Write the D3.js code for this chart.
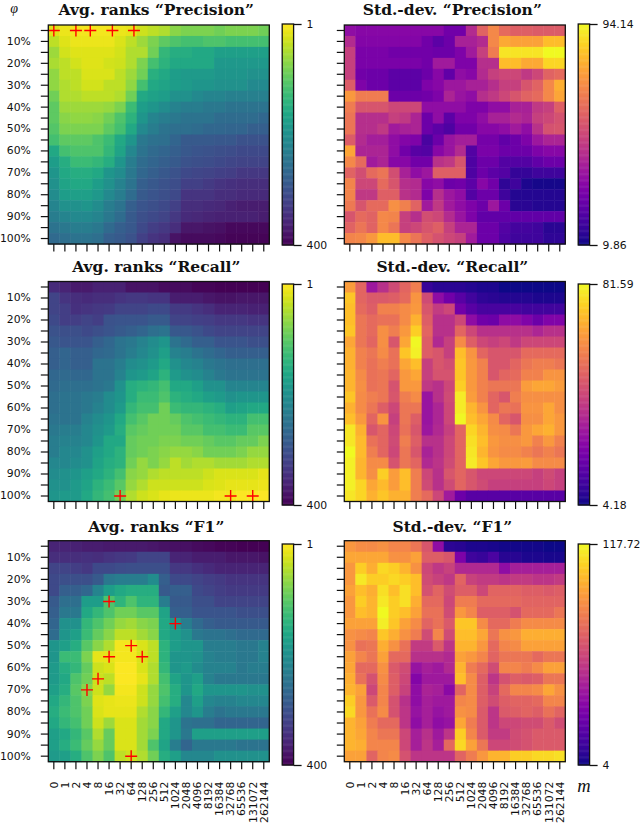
<!DOCTYPE html>
<html>
<head>
<meta charset="utf-8">
<script src="https://cdn.jsdelivr.net/npm/d3@7/dist/d3.min.js"></script>
<style>
  html, body { margin: 0; padding: 0; background: #fff; }
  svg { display: block; }
  text { fill: #111; }
</style>
</head>
<body>
<div id="chart"></div>
<script>
var w = 640;
var h = 824;

// tick labels
var mValues = ["0","1","2","4","8","16","32","64","128","256","512","1024","2048","4096","8192","16384","32768","65536","131072","262144"];
var phiValues = ["5%","10%","15%","20%","25%","30%","35%","40%","45%","50%","55%","60%","65%","70%","75%","80%","85%","90%","95%","100%"];

// colorbar ranges
var rankRange = [1, 400];
var stdPrecisionRange = [9.86, 94.14];
var stdRecallRange = [4.18, 81.59];
var stdF1Range = [4, 117.72];

// best settings, [m position, phi position]
var bestPrecision = [[0,0],[2,0],[3.3,0],[5.3,0],[7.25,0]];
var bestRecall = [[6,19],[16,19],[18,19]];
var bestF1 = [[5,5],[7,9],[5,10],[8,10],[4,12],[3,13],[7,19],[11,7]];

var rankPrecision = [
[20,12,8,8,8,8,12,16,32,40,48,72,80,80,80,88,80,80,80,88],
[40,20,12,12,12,12,24,40,60,80,100,112,120,120,112,112,120,120,120,120],
[60,28,20,20,20,20,28,48,48,88,136,152,152,160,160,176,176,176,176,176],
[52,40,28,20,20,28,32,48,80,120,144,160,160,160,160,188,188,188,188,188],
[68,40,40,24,24,24,40,60,88,148,160,180,184,184,184,192,192,192,200,200],
[68,48,40,28,28,40,40,68,120,160,168,180,184,192,192,200,200,200,212,212],
[88,48,48,40,40,40,48,88,160,172,180,200,200,212,220,220,228,228,228,228],
[100,60,60,60,60,64,80,128,180,192,208,224,232,232,240,240,248,248,248,248],
[100,72,68,68,72,88,112,144,192,220,232,240,248,248,248,260,260,260,260,268],
[108,80,80,80,80,100,120,160,212,232,248,256,256,260,268,268,272,272,280,280],
[120,100,100,100,112,128,160,192,240,252,256,272,288,288,288,292,292,300,300,300],
[160,120,112,112,112,136,168,216,248,264,272,280,292,296,300,304,308,312,312,312],
[180,152,128,128,136,152,192,232,260,272,280,288,300,304,308,312,316,320,320,320],
[192,160,152,152,160,192,208,240,268,280,292,300,312,316,320,324,328,336,336,336],
[200,168,160,160,180,200,224,248,280,292,300,308,324,324,332,340,344,348,348,348],
[208,180,176,176,188,212,232,260,288,296,304,312,340,340,340,348,348,352,352,352],
[220,200,200,192,208,232,248,280,296,304,312,324,348,348,352,356,364,368,368,368],
[232,220,212,212,220,240,260,288,304,312,320,336,352,356,360,364,364,364,364,368],
[248,240,232,232,240,264,280,292,312,328,336,348,376,376,380,384,392,392,392,392],
[264,256,248,248,256,280,288,300,324,340,348,380,388,388,388,392,396,396,396,396]
];

var stdPrecision = [
[35,33,33,33,33,33,33,33,33,28,28,44,60,70,62,59,59,58,58,58],
[44,32,32,32,32,32,32,28,24,27,41,41,44,70,78,76,76,76,82,82],
[50,30,30,30,28,28,28,28,27,27,31,39,50,67,90,90,90,90,94,94],
[50,30,30,30,30,30,30,28,39,39,31,31,45,45,82,82,78,78,87,87],
[50,28,27,27,24,24,24,27,33,25,35,33,44,50,52,52,48,52,60,62],
[58,31,27,27,24,24,24,31,33,38,38,41,41,45,50,50,56,60,70,79],
[74,67,67,67,27,27,27,28,31,42,37,35,45,48,52,56,60,62,70,77],
[67,56,56,56,52,52,52,35,35,35,35,31,31,35,35,41,41,48,50,59],
[65,45,45,45,50,48,42,27,35,24,31,31,35,41,41,44,42,50,52,55],
[65,45,45,48,39,41,42,27,24,21,28,28,33,33,35,39,35,46,55,56],
[58,44,40,40,35,32,31,20,27,37,40,40,29,29,25,27,31,38,42,42],
[77,42,42,42,35,28,23,22,33,37,44,22,30,30,27,27,27,31,33,33],
[70,62,39,42,33,33,28,28,46,48,56,21,27,27,22,22,22,25,27,27],
[60,54,62,65,54,41,35,38,59,59,59,21,27,24,22,16,16,18,18,18],
[69,52,52,62,56,45,44,33,35,27,28,24,33,28,15,18,12,11,11,11],
[69,48,48,59,59,46,44,31,45,38,35,22,27,27,18,13,13,13,13,13],
[66,56,62,62,72,68,60,39,48,39,35,31,27,38,27,14,14,13,13,13],
[56,62,60,70,69,50,45,54,52,44,37,31,25,25,25,25,25,25,25,25],
[60,65,60,70,65,50,52,56,59,50,42,42,27,27,22,19,19,18,14,14],
[69,70,74,82,82,70,65,59,55,52,50,39,27,27,21,18,18,18,15,15]
];

var rankRecall = [
[352,360,372,372,364,364,364,380,380,380,388,388,388,396,396,400,400,400,400,400],
[320,340,348,352,348,348,340,336,336,340,340,368,368,368,376,380,380,376,376,376],
[320,328,344,340,336,332,320,320,320,312,312,332,332,340,348,360,360,360,364,364],
[312,328,328,320,328,300,296,296,296,288,288,320,320,324,328,336,336,336,340,340],
[300,304,304,312,304,296,288,280,272,256,248,292,292,300,312,320,320,320,320,320],
[292,296,296,296,280,268,248,240,224,208,192,248,264,280,280,296,296,296,304,304],
[280,272,280,280,268,264,248,232,216,200,176,224,232,248,260,272,280,280,280,280],
[280,272,280,280,248,248,232,208,200,184,160,200,216,224,240,248,256,256,256,256],
[268,264,268,268,248,248,224,192,184,168,144,184,200,208,224,240,248,248,248,248],
[264,256,256,256,248,240,200,152,144,136,120,160,160,176,200,200,220,220,220,220],
[256,248,248,240,232,208,192,152,128,128,112,144,152,160,176,184,200,192,192,192],
[256,248,248,240,224,208,184,136,120,120,88,128,136,136,144,152,176,168,160,160],
[248,248,248,224,208,192,160,120,104,88,88,96,112,120,128,136,144,144,120,120],
[240,232,232,216,200,184,152,104,96,88,88,88,104,104,120,120,128,128,104,104],
[232,224,224,216,192,160,160,96,88,88,80,80,88,88,96,104,104,96,96,80],
[232,216,216,200,176,160,144,96,88,80,72,64,64,72,88,88,88,80,64,64],
[216,216,208,200,168,152,144,88,64,80,64,40,56,48,48,56,56,56,48,48],
[208,200,192,176,160,144,120,72,64,48,40,40,40,40,32,24,24,24,24,16],
[200,200,184,168,144,128,104,64,48,32,32,32,32,32,24,20,16,16,16,12],
[192,184,184,160,136,120,88,48,32,24,16,12,12,12,12,8,8,4,4,1]
];

var stdRecall = [
[64,51,30,37,44,51,57,10,8,8,8,7,6,6,4,4,4,4,4,4],
[72,51,48,48,49,52,62,44,27,21,16,12,9,8,7,7,7,6,6,6],
[71,52,49,58,58,60,63,47,40,43,21,16,13,13,13,13,12,12,12,12],
[71,55,52,54,54,60,68,49,37,37,43,27,21,20,27,27,24,20,24,24],
[72,55,52,61,57,63,74,51,37,37,51,43,37,37,37,37,37,34,37,37],
[66,55,51,61,47,66,81,49,35,41,60,49,43,41,43,39,43,43,43,43],
[68,58,55,60,54,72,80,49,47,41,71,62,51,47,47,47,52,52,52,52],
[68,58,54,57,54,66,71,41,47,45,72,63,58,47,47,51,55,57,57,55],
[69,60,54,55,51,63,66,41,46,46,72,63,58,47,51,52,58,58,62,62],
[69,61,54,55,46,63,63,39,37,43,74,63,58,55,55,55,64,66,66,64],
[72,60,57,55,47,57,60,29,37,44,79,64,58,51,47,57,61,61,61,61],
[68,60,55,49,43,55,55,29,34,43,79,69,62,51,55,54,62,62,66,61],
[71,63,51,62,41,55,49,29,34,43,81,71,66,60,51,47,61,61,66,63],
[78,68,47,51,43,54,47,30,35,41,51,75,69,61,60,55,63,66,68,63],
[78,70,54,51,44,57,49,37,37,43,51,77,71,63,61,61,63,58,63,58],
[82,70,57,51,43,55,47,33,37,43,51,78,69,62,60,60,58,55,58,55],
[80,69,60,60,46,55,51,35,38,44,51,79,72,66,63,63,64,60,60,60],
[80,69,61,74,64,71,57,43,37,47,51,47,43,43,43,43,43,41,44,41],
[80,75,66,70,64,71,57,44,37,44,51,47,44,41,41,41,41,41,43,41],
[78,75,68,72,68,68,57,52,43,31,20,16,16,16,16,16,16,16,16,16]
];

var rankF1 = [
[360,360,364,368,368,372,372,372,372,376,380,384,384,388,392,396,396,400,400,400],
[348,348,348,344,348,340,336,332,320,320,320,360,360,368,368,368,376,376,376,380],
[320,320,328,336,312,312,308,304,304,304,304,336,336,344,352,360,360,360,360,360],
[312,304,304,304,288,240,232,232,232,208,280,312,312,320,328,332,340,340,340,340],
[312,280,280,268,220,180,160,152,152,152,288,280,280,312,320,328,332,332,332,332],
[288,256,256,180,180,112,140,112,140,140,232,288,288,304,304,320,320,320,320,320],
[280,240,240,160,136,112,88,88,104,104,168,280,280,296,296,296,296,304,304,304],
[272,200,200,136,112,88,64,56,72,80,160,192,232,264,280,288,288,288,288,288],
[260,192,176,128,96,72,40,40,56,72,160,180,200,240,248,248,256,264,264,264],
[192,176,152,104,72,48,8,8,24,40,144,180,192,192,232,232,232,240,240,224],
[192,128,128,80,16,16,8,8,24,40,144,192,192,200,224,232,232,240,240,224],
[184,152,136,96,32,24,4,4,24,48,136,192,184,208,224,224,224,240,232,232],
[184,160,112,88,32,40,4,4,16,48,120,168,192,176,224,240,240,240,240,240],
[176,152,104,72,32,64,8,8,32,64,112,152,192,160,192,192,192,192,200,200],
[160,136,112,80,20,16,12,12,32,64,120,152,216,176,216,224,224,216,216,216],
[152,128,112,88,24,16,16,16,48,72,136,176,216,192,232,248,240,240,240,240],
[160,136,120,88,32,60,24,24,56,72,160,192,248,256,256,272,272,272,272,272],
[176,160,136,104,48,96,24,24,56,80,160,192,240,176,176,176,176,176,176,176],
[176,152,128,96,64,96,24,24,56,112,168,232,272,240,240,240,240,248,248,248],
[184,176,152,112,80,112,40,32,48,88,152,176,216,216,216,200,200,200,200,200]
];

var stdF1 = [
[90,87,86,88,84,84,79,67,38,10,9,7,7,6,5,5,5,5,4,4],
[95,95,95,95,88,88,93,70,70,67,32,15,13,18,9,9,7,7,6,6],
[90,106,97,109,106,99,88,61,55,59,49,49,49,49,38,45,45,45,45,45],
[90,113,106,106,109,106,102,63,59,55,72,59,56,56,54,56,56,54,54,56],
[93,102,97,111,102,111,102,65,72,63,70,70,61,72,72,72,70,70,68,70],
[90,106,99,113,106,111,97,74,74,61,81,81,74,74,74,74,72,72,72,72],
[90,102,99,118,106,102,93,77,77,63,90,84,70,70,70,65,74,74,74,79],
[93,93,93,115,104,93,86,72,77,68,104,104,86,74,74,81,86,86,86,86],
[88,86,84,104,97,88,81,63,84,63,102,102,95,79,88,90,97,97,97,97],
[88,77,79,97,88,77,56,56,68,54,99,99,90,74,84,86,93,93,93,93],
[93,84,79,93,74,74,52,52,52,49,93,90,84,72,79,79,79,74,79,79],
[95,74,74,88,68,63,40,45,43,49,99,81,74,63,84,84,81,86,93,93],
[97,77,65,86,70,61,34,43,43,43,102,86,70,54,65,70,68,70,79,79],
[99,93,61,84,70,59,38,47,45,36,72,86,70,59,74,84,84,86,95,88],
[106,90,68,84,65,52,38,45,43,43,84,86,70,63,70,72,72,74,84,84],
[109,90,77,86,65,54,40,45,40,43,88,86,68,54,68,70,72,70,77,72],
[99,93,81,74,74,54,38,45,38,40,95,81,68,54,61,61,63,63,68,63],
[99,95,84,79,79,61,45,52,43,54,106,84,68,56,56,63,65,68,68,68],
[99,97,84,84,84,61,45,54,45,74,109,93,79,61,61,63,65,68,68,68],
[93,93,72,84,86,65,54,54,54,54,72,81,90,99,99,106,106,109,109,111]
];

// panels, left column is viridis with rank 1 on top, right column is plasma
var panels = [
  {title: "Avg. ranks “Precision”", values: rankPrecision, range: rankRange, interp: d3.interpolateViridis, reversed: true, best: bestPrecision, row: 0, col: 0},
  {title: "Std.-dev. “Precision”", values: stdPrecision, range: stdPrecisionRange, interp: d3.interpolatePlasma, reversed: false, best: [], row: 0, col: 1},
  {title: "Avg. ranks “Recall”", values: rankRecall, range: rankRange, interp: d3.interpolateViridis, reversed: true, best: bestRecall, row: 1, col: 0},
  {title: "Std.-dev. “Recall”", values: stdRecall, range: stdRecallRange, interp: d3.interpolatePlasma, reversed: false, best: [], row: 1, col: 1},
  {title: "Avg. ranks “F1”", values: rankF1, range: rankRange, interp: d3.interpolateViridis, reversed: true, best: bestF1, row: 2, col: 0},
  {title: "Std.-dev. “F1”", values: stdF1, range: stdF1Range, interp: d3.interpolatePlasma, reversed: false, best: [], row: 2, col: 1}
];

// layout of the grid of panels
var colX = [48.3, 344.3];
var mapW = 221;
var rowY = [25, 281.5, 540.7];
var mapH = [219, 220, 221];
var titleY = [14.7, 272, 532];
var barY = [24, 284, 544];
var barH = 221;
var barGap = 12.9;
var barW = 11.4;
var tickSize = 7.5;
var sansFont = "'DejaVu Sans', sans-serif";
var serifFont = "'DejaVu Serif', serif";

var svg = d3.select("#chart")
  .append("svg")
  .attr("width", w)
  .attr("height", h);

panels.forEach(function(p) {
  var x0 = colX[p.col];
  var y0 = rowY[p.row];
  var hh = mapH[p.row];

  var x = d3.scaleBand().domain(mValues).range([0, mapW]);
  var y = d3.scaleBand().domain(phiValues).range([0, hh]);

  var domain = p.reversed ? [p.range[1], p.range[0]] : p.range;
  var color = d3.scaleSequential(p.interp).domain(domain);

  var g = svg.append("g").attr("transform", "translate(" + x0 + "," + y0 + ")");

  // Flatten to one record per cell
  var cells = [];
  p.values.forEach(function(row, i) {
    row.forEach(function(v, j) {
      cells.push({m: mValues[j], phi: phiValues[i], value: v});
    });
  });

  g.selectAll("rect.cell")
    .data(cells)
    .enter()
    .append("rect")
    .attr("class", "cell")
    .attr("x", function(d) { return x(d.m); })
    .attr("y", function(d) { return y(d.phi); })
    .attr("width", x.bandwidth() + 0.5)
    .attr("height", y.bandwidth() + 0.5)
    .style("fill", function(d) { return color(d.value); });

  // red crosses on the best settings
  var bestX = d3.scaleLinear().domain([0, 19]).range([x.bandwidth() / 2, mapW - x.bandwidth() / 2]);
  var bestY = d3.scaleLinear().domain([0, 19]).range([y.bandwidth() / 2, hh - y.bandwidth() / 2]);
  var cross = g.selectAll("g.best")
    .data(p.best)
    .enter()
    .append("g")
    .attr("class", "best")
    .attr("transform", function(d) { return "translate(" + bestX(d[0]) + "," + bestY(d[1]) + ")"; });
  cross.append("path")
    .attr("d", "M-6,0H6M0,-6V6")
    .style("stroke", "#ff0000")
    .style("stroke-width", 1.4)
    .style("fill", "none");

  g.append("rect")
    .attr("width", mapW)
    .attr("height", hh)
    .style("fill", "none")
    .style("stroke", "#111")
    .style("stroke-width", 1.3);

  // axes
  var yAxis = d3.axisLeft(y)
    .tickSize(tickSize)
    .tickPadding(10)
    .tickFormat(function(d, i) { return (p.col == 0 && i % 2 == 1) ? d : ""; });
  var gy = g.append("g").call(yAxis);

  var xAxis = d3.axisBottom(x)
    .tickSize(tickSize)
    .tickFormat(function(d) { return p.row == 2 ? d : ""; });
  var gx = g.append("g").attr("transform", "translate(0," + hh + ")").call(xAxis);

  [gy, gx].forEach(function(a) {
    a.select(".domain").remove();
    a.selectAll("line").style("stroke", "#111").style("stroke-width", 1.2);
    a.selectAll("text").style("font-family", sansFont).style("font-size", "10.8px");
  });

  gx.selectAll("text")
    .attr("transform", "rotate(-90)")
    .attr("x", -20)
    .attr("y", 0)
    .attr("dy", "0.35em")
    .style("text-anchor", "end");

  svg.append("text")
    .attr("x", x0 + mapW / 2 - 2.5)
    .attr("y", titleY[p.row])
    .style("text-anchor", "middle")
    .style("font-family", serifFont)
    .style("font-weight", "bold")
    .style("font-size", "15.5px")
    .text(p.title);

  // colorbar
  var barX = x0 + mapW + barGap;
  var by = barY[p.row];
  var barScale = d3.scaleLinear().domain(p.reversed ? p.range : [p.range[1], p.range[0]]).range([0, barH]);
  var bar = svg.append("g").attr("transform", "translate(" + barX + "," + by + ")");
  bar.selectAll("rect.step")
    .data(d3.range(0, 256))
    .enter()
    .append("rect")
    .attr("class", "step")
    .attr("x", 0)
    .attr("y", function(d) { return barH * d / 256; })
    .attr("width", barW)
    .attr("height", barH / 256 + 0.5)
    .style("fill", function(d) { return color(barScale.invert(barH * (d + 0.5) / 256)); });
  bar.append("rect")
    .attr("width", barW)
    .attr("height", barH)
    .style("fill", "none")
    .style("stroke", "#111")
    .style("stroke-width", 1.3);

  var barAxis = d3.axisRight(barScale)
    .tickValues(p.range)
    .tickSize(8)
    .tickPadding(5)
    .tickFormat(function(d) { return d; });
  var gb = bar.append("g").attr("transform", "translate(" + barW + ",0)").call(barAxis);
  gb.select(".domain").remove();
  gb.selectAll("line").style("stroke", "#111").style("stroke-width", 1.3);
  gb.selectAll("text").style("font-family", sansFont).style("font-size", "10.8px");
});

// axis symbols
svg.append("text")
  .attr("x", 14)
  .attr("y", 12.6)
  .style("text-anchor", "middle")
  .style("font-family", "'Liberation Serif', serif")
  .style("font-style", "italic")
  .style("font-size", "14px")
  .text("φ");

svg.append("text")
  .attr("x", 584)
  .attr("y", 792)
  .style("text-anchor", "middle")
  .style("font-family", "'Liberation Serif', serif")
  .style("font-style", "italic")
  .style("font-size", "18.5px")
  .text("m");
</script>
</body>
</html>
